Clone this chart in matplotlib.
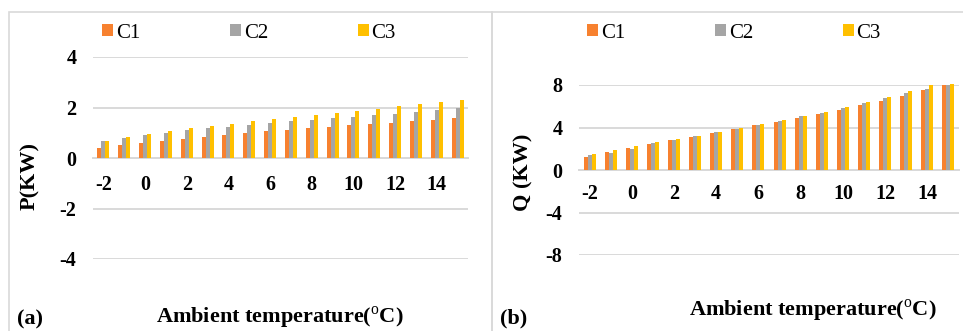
"""Heat pump power (P) and capacity (Q) vs ambient temperature for cases C1-C3."""

import matplotlib

matplotlib.use("Agg")
import matplotlib.pyplot as plt  # noqa: E402
from matplotlib.patches import Rectangle  # noqa: E402

TEMPS = list(range(-2, 16))
SERIES = ["C1", "C2", "C3"]

P_C1 = [0.39, 0.51, 0.61, 0.69, 0.77, 0.85, 0.93, 1.00, 1.05,
        1.12, 1.19, 1.23, 1.29, 1.35, 1.40, 1.45, 1.51, 1.59]
P_C2 = [0.68, 0.79, 0.91, 1.00, 1.09, 1.17, 1.24, 1.32, 1.39,
        1.45, 1.51, 1.57, 1.64, 1.69, 1.75, 1.81, 1.89, 1.99]
P_C3 = [0.68, 0.83, 0.96, 1.07, 1.17, 1.27, 1.36, 1.45, 1.53,
        1.63, 1.71, 1.79, 1.87, 1.95, 2.04, 2.12, 2.21, 2.31]

Q_C1 = [1.26, 1.67, 2.05, 2.43, 2.80, 3.15, 3.50, 3.84, 4.19,
        4.54, 4.91, 5.29, 5.67, 6.11, 6.52, 6.99, 7.50, 8.03]
Q_C2 = [1.42, 1.57, 1.98, 2.52, 2.80, 3.24, 3.53, 3.84, 4.22,
        4.57, 5.07, 5.35, 5.83, 6.33, 6.74, 7.24, 7.59, 8.03]
Q_C3 = [1.48, 1.86, 2.24, 2.61, 2.90, 3.24, 3.56, 3.94, 4.31,
        4.66, 5.04, 5.45, 5.89, 6.36, 6.87, 7.40, 8.00, 8.09]

P_TICKS = [-4, -2, 0, 2, 4]
Q_TICKS = [-8, -4, 0, 4, 8]

COLORS = ["#F7812F", "#A5A5A5", "#FFC000"]
GRID = "#D9D9D9"
W, H = 963, 331

plt.rcParams["font.family"] = ["Liberation Serif", "DejaVu Serif"]
plt.rcParams["axes.unicode_minus"] = False
plt.rcParams["mathtext.fontset"] = "custom"
plt.rcParams["mathtext.rm"] = "Liberation Serif"


def fx(px):
    return px / W


def fy(py):
    return (H - py) / H


def _panel(fig, rect, series, ticks, xpad, legend_x):
    ax = fig.add_axes(rect)
    width = 0.19
    xs = range(len(TEMPS))
    for k, (name, vals) in enumerate(zip(SERIES, series)):
        ax.bar([x + (k - 1) * width for x in xs], vals, width,
               color=COLORS[k], label=name, zorder=3, clip_on=False)
    ax.set_xlim(-0.5, len(TEMPS) - 0.5)
    ax.set_ylim(ticks[0], ticks[-1])
    ax.set_yticks(ticks)
    ax.set_xticks([i for i, t in enumerate(TEMPS) if t % 2 == 0])
    ax.set_xticklabels([str(t) for t in TEMPS if t % 2 == 0])
    for side in ("top", "right", "left"):
        ax.spines[side].set_visible(False)
    ax.spines["bottom"].set_position(("data", 0))
    ax.spines["bottom"].set_color(GRID)
    ax.spines["bottom"].set_linewidth(1.4)
    ax.spines["bottom"].set_zorder(2)
    ax.grid(True, axis="y", color=GRID, linewidth=1.4, zorder=0)
    ax.tick_params(axis="x", length=0, pad=xpad, labelsize=14.5)
    ax.tick_params(axis="y", length=0, pad=12, labelsize=14.5)
    for lab in ax.get_xticklabels() + ax.get_yticklabels():
        lab.set_fontweight("bold")
    ax.legend(loc="center left", bbox_to_anchor=(legend_x, fy(33)),
              bbox_transform=fig.transFigure, ncol=3, frameon=False,
              fontsize=15, handlelength=0.55, handleheight=0.55,
              handletextpad=0.12, columnspacing=4.3, borderpad=0,
              borderaxespad=0)
    return ax


fig = plt.figure(figsize=(W / 100, H / 100), dpi=100)

_panel(fig, [fx(93), fy(259), fx(468 - 93), (259 - 57) / H],
       [P_C1, P_C2, P_C3], P_TICKS, 12, fx(102))
_panel(fig, [fx(579), fy(255), fx(959 - 579), (255 - 85) / H],
       [Q_C1, Q_C2, Q_C3], Q_TICKS, 10, fx(587))

# panel frames
for x0, x1 in ((9, 492), (492, 1000)):
    fig.add_artist(Rectangle((fx(x0), -0.1), fx(x1 - x0), fy(12) + 0.1,
                             transform=fig.transFigure, fill=False,
                             edgecolor=GRID, linewidth=1.2))

bold = dict(fontsize=16, fontweight="bold")
fig.text(fx(30), fy(176), "P(KW)", rotation=90, ha="center", va="center", **bold)
fig.text(fx(523), fy(172), "Q (KW)", rotation=90, ha="center", va="center", **bold)
fig.text(fx(17), fy(319), "(a)", ha="left", va="center", **bold)
fig.text(fx(500), fy(318), "(b)", ha="left", va="center", **bold)
fig.text(fx(280), fy(318), r"Ambient temperature($^{\rm o}$C)",
         ha="center", va="center", **bold)
fig.text(fx(813), fy(311), r"Ambient temperature($^{\rm o}$C)",
         ha="center", va="center", **bold)

fig.savefig("out.png", dpi=100)
